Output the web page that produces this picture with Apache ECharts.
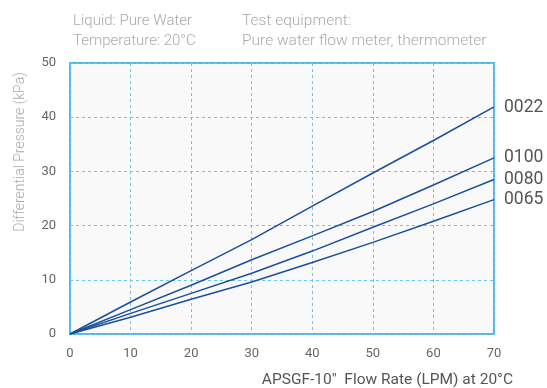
<!DOCTYPE html>
<html><head><meta charset="utf-8">
<script src="https://cdn.jsdelivr.net/npm/echarts@6/dist/echarts.min.js"></script>
<style>html,body{margin:0;padding:0;background:#fff}#c{width:547px;height:388px}</style>
</head><body><div id="c"></div>
<script>
const flowRates = [0, 10, 20, 30, 40, 50, 60, 70];
const series0022 = [0, 5.9, 11.7, 17.4, 23.6, 29.7, 35.7, 41.9];
const series0100 = [0, 4.5, 9.0, 13.7, 18.1, 22.6, 27.5, 32.5];
const series0080 = [0, 3.8, 7.5, 11.2, 15.3, 19.7, 24.0, 28.5];
const series0065 = [0, 3.1, 6.4, 9.6, 13.2, 16.9, 20.8, 24.8];
const seriesNames = ['0022', '0100', '0080', '0065'];
const seriesValues = [series0022, series0100, series0080, series0065];
const labelOffsets = [[0, 1], [0, 0], [0, 0], [0, 0]];

const chart = echarts.init(document.getElementById('c'));
const font = 'Roboto, "Noto Sans", sans-serif';
chart.setOption({
  animation: false,
  grid: { left: 70, right: 53, top: 63, bottom: 53, show: true,
    backgroundColor: '#f9f9f9', borderColor: '#4fb9e6', borderWidth: 2 },
  xAxis: { type: 'value', min: 0, max: 70, interval: 10,
    axisLine: { show: false }, axisTick: { show: false },
    splitLine: { lineStyle: { color: '#6cc6ec', type: [3, 3], width: 1 } },
    axisLabel: { color: '#666', fontSize: 13, fontFamily: font, margin: 13 },
    name: 'APSGF-10"  Flow Rate (LPM) at 20°C', nameLocation: 'end',
    nameTextStyle: { color: '#555', fontSize: 15.5, fontFamily: font, align: 'right', verticalAlign: 'top', padding: [38, -4, 0, 0] }
  },
  yAxis: { type: 'value', min: 0, max: 50, interval: 10,
    axisLine: { show: false }, axisTick: { show: false },
    splitLine: { lineStyle: { color: '#6cc6ec', type: [3, 3], width: 1 } },
    axisLabel: { color: '#666', fontSize: 13, fontFamily: font, margin: 14 }
  },
  graphic: [
    { type: 'text', left: 73, top: 11, style: { text: 'Liquid: Pure Water\nTemperature: 20°C', fill: '#aaa', fontSize: 15, lineHeight: 20, fontFamily: font, fontWeight: 300 } },
    { type: 'text', left: 242, top: 11, style: { text: 'Test equipment:\nPure water flow meter, thermometer', fill: '#aaa', fontSize: 15.5, lineHeight: 20, fontFamily: font, fontWeight: 300 } },
    { type: 'text', x: 20, y: 152, rotation: Math.PI / 2, style: { text: 'Differential Pressure (kPa)', fill: '#aaa', fontSize: 14, fontFamily: font, fontWeight: 300, align: 'center', verticalAlign: 'middle' } }
  ],
  series: seriesNames.map((n, i) => ({
    name: n, type: 'line', showSymbol: false, symbol: 'none',
    data: flowRates.map((x, j) => [x, seriesValues[i][j]]),
    lineStyle: { color: '#1a4f9e', width: 1.5 },
    endLabel: { show: true, formatter: n, color: '#555', fontSize: 17.5, fontFamily: font, distance: 10, offset: labelOffsets[i] }
  }))
});
</script></body></html>
